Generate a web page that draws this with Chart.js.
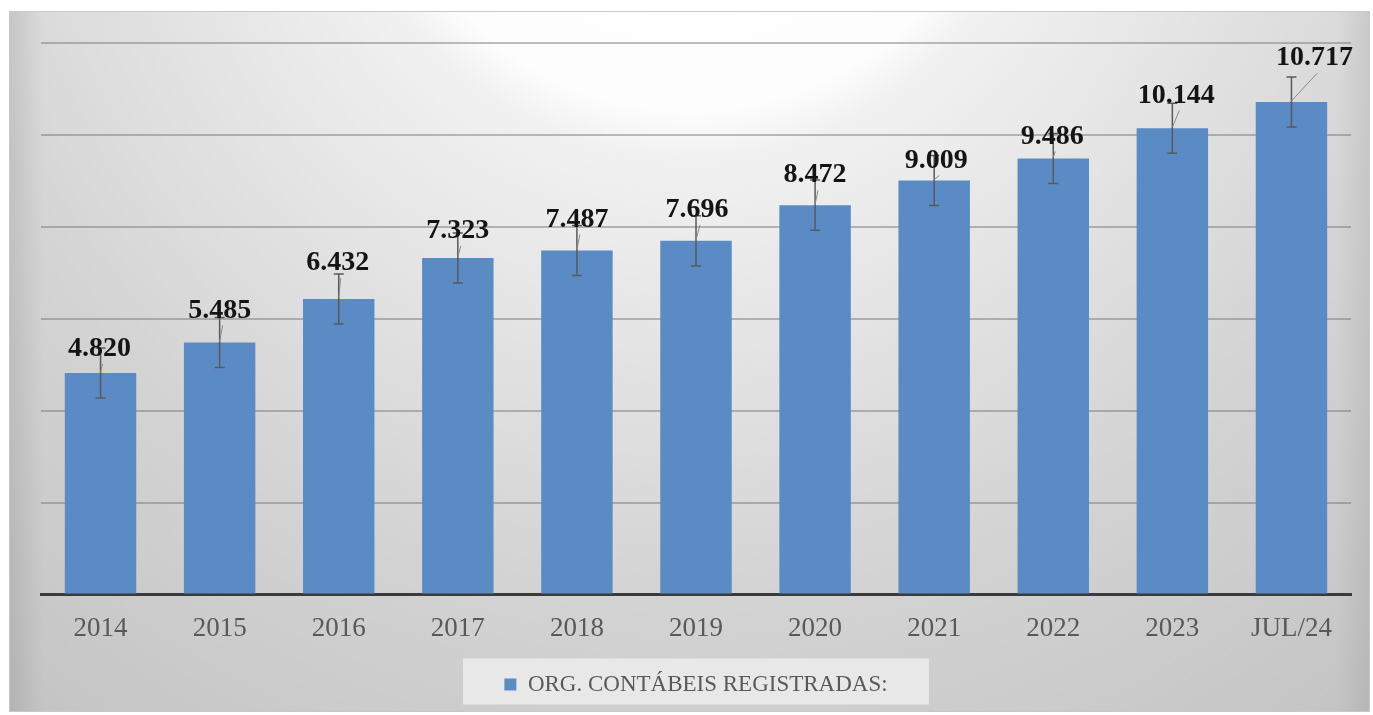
<!DOCTYPE html>
<html lang="pt-BR">
<head>
<meta charset="UTF-8">
<title>Organizações contábeis registradas</title>
<script src="https://cdn.jsdelivr.net/npm/chart.js"></script>
<style>
    html, body { margin: 0; padding: 0; background: #fff; }
    #grafico { display: block; }
</style>
</head>
<body>
<canvas id="grafico" width="1373" height="715"></canvas>
<script>
    // dados
    const anos = ['2014', '2015', '2016', '2017', '2018', '2019', '2020', '2021', '2022', '2023', 'JUL/24'];
    const registradas = [4820, 5485, 6432, 7323, 7487, 7696, 8472, 9009, 9486, 10144, 10717];
    const erroPadrao = [545, 545, 545, 545, 545, 545, 545, 545, 545, 545, 545];
    const legendaSerie = 'ORG. CONTÁBEIS REGISTRADAS:';
    const yMax = 12000;
    const yPasso = 2000;

    // posição dos rótulos (px acima do topo da barra / deslocamento lateral)
    const rotuloElev = [24, 32, 36, 27, 31, 31, 30, 20, 22, 33, 44];
    const rotuloDesloc = [-1, 0, -1, 0, 0, 1, 0, 2, -1, 4, 23];

    const corBarra = '#5b8bc4';
    const fonte = 'Liberation Serif';

    function milhar(v) {
        return String(v).replace(/\B(?=(\d{3})+(?!\d))/g, '.');
    }

    const fundoPlugin = {
        id: 'fundoPlugin',
        beforeDraw(chart) {
            const {ctx} = chart;
            const x0 = 9, y0 = 11, x1 = 1370, y1 = 712;
            ctx.save();
            const g = ctx.createRadialGradient(690, -200, 0, 690, -200, 1150);
            g.addColorStop(0, '#ffffff');
            g.addColorStop(0.27, '#fdfdfd');
            g.addColorStop(0.31, '#f1f1f1');
            g.addColorStop(0.5, '#e2e2e2');
            g.addColorStop(0.68, '#d4d4d4');
            g.addColorStop(1, '#c3c3c3');
            ctx.fillStyle = g;
            ctx.fillRect(x0, y0, x1 - x0, y1 - y0);

            const lg = ctx.createLinearGradient(x0, 0, x1, 0);
            lg.addColorStop(0, 'rgba(0,0,0,0.09)');
            lg.addColorStop(0.025, 'rgba(0,0,0,0)');
            lg.addColorStop(0.975, 'rgba(0,0,0,0)');
            lg.addColorStop(1, 'rgba(0,0,0,0.07)');
            ctx.fillStyle = lg;
            ctx.fillRect(x0, y0, x1 - x0, y1 - y0);

            ctx.strokeStyle = '#c8c8c8';
            ctx.lineWidth = 1;
            ctx.strokeRect(x0 + 0.5, y0 + 0.5, x1 - x0 - 1, y1 - y0 - 1);

            // caixa da legenda
            const hb = chart.legend && chart.legend.legendHitBoxes[0];
            if (hb) {
                const cx = hb.left + hb.width / 2;
                const cy = hb.top + hb.height / 2;
                ctx.fillStyle = 'rgba(240,240,240,0.75)';
                ctx.fillRect(cx - 233, cy - 26, 466, 46);
            }
            ctx.restore();
        }
    };

    const erroRotuloPlugin = {
        id: 'erroRotuloPlugin',
        afterDatasetsDraw(chart) {
            const {ctx} = chart;
            const y = chart.scales.y;
            const meta = chart.getDatasetMeta(0);
            ctx.save();

            // barras de erro
            ctx.strokeStyle = '#595959';
            ctx.lineWidth = 1.5;
            meta.data.forEach((bar, i) => {
                const yA = y.getPixelForValue(registradas[i] + erroPadrao[i]);
                const yB = y.getPixelForValue(registradas[i] - erroPadrao[i]);
                ctx.beginPath();
                ctx.moveTo(bar.x, yA);
                ctx.lineTo(bar.x, yB);
                ctx.moveTo(bar.x - 5, yA);
                ctx.lineTo(bar.x + 5, yA);
                ctx.moveTo(bar.x - 5, yB);
                ctx.lineTo(bar.x + 5, yB);
                ctx.stroke();
            });

            // linhas de chamada + rótulos
            ctx.font = 'bold 28px "' + fonte + '"';
            ctx.fillStyle = '#141414';
            ctx.textAlign = 'center';
            ctx.textBaseline = 'middle';
            meta.data.forEach((bar, i) => {
                const lx = bar.x + rotuloDesloc[i];
                const ly = bar.y - rotuloElev[i];
                ctx.strokeStyle = '#8a8a8a';
                ctx.lineWidth = 1;
                ctx.beginPath();
                ctx.moveTo(lx + 3, ly + 15);
                ctx.lineTo(bar.x, bar.y - 1);
                ctx.stroke();
                ctx.fillText(milhar(registradas[i]), lx, ly);
            });
            ctx.restore();
        }
    };

    const ctx = document.getElementById('grafico').getContext('2d');
    new Chart(ctx, {
        type: 'bar',
        data: {
            labels: anos,
            datasets: [{
                label: legendaSerie,
                data: registradas,
                backgroundColor: corBarra,
                borderWidth: 0,
                categoryPercentage: 1,
                barPercentage: 0.6
            }]
        },
        options: {
            responsive: false,
            animation: false,
            layout: { padding: { left: 41, right: 22, top: 43, bottom: 9 } },
            scales: {
                x: {
                    grid: { display: false, drawTicks: false },
                    border: { display: true, color: '#3a3a3a', width: 3 },
                    ticks: {
                        color: '#595959',
                        padding: 18,
                        font: { family: fonte, size: 27 }
                    },
                    afterFit(axis) { axis.height += 2; }
                },
                y: {
                    min: 0,
                    max: yMax,
                    ticks: { display: false, stepSize: yPasso },
                    grid: { color: 'rgba(110,110,110,0.45)', lineWidth: 2, drawTicks: false },
                    border: { display: false },
                    afterFit(axis) { axis.width = 0; }
                }
            },
            plugins: {
                legend: {
                    position: 'bottom',
                    fullSize: false,
                    labels: {
                        boxWidth: 12,
                        boxHeight: 12,
                        padding: 8,
                        color: '#595959',
                        font: { family: fonte, size: 23 }
                    }
                },
                tooltip: { enabled: false }
            }
        },
        plugins: [fundoPlugin, erroRotuloPlugin]
    });
</script>
</body>
</html>
